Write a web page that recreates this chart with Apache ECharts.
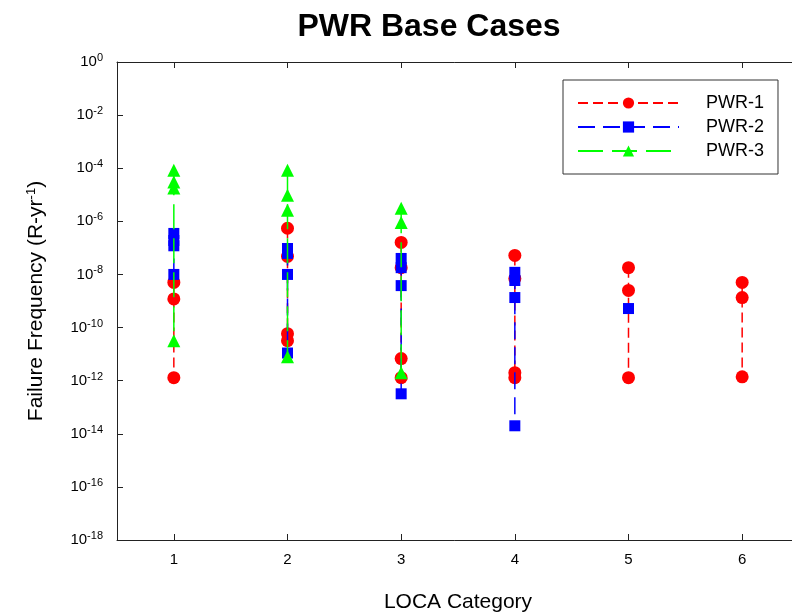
<!DOCTYPE html>
<html>
<head>
<meta charset="utf-8">
<script src="https://cdn.jsdelivr.net/npm/echarts@6/dist/echarts.min.js"></script>
<style>html,body{margin:0;padding:0;background:#fff}#c{width:792px;height:613px}</style>
</head>
<body>
<div id="c"></div>
<script>
// Categories (LOCA category)
const categories = ['1', '2', '3', '4', '5', '6'];
// Values per category for each series (failure frequency, R-yr^-1)
const pwr1 = [
  [5e-9, 1.2e-9, 1.3e-12],
  [5.5e-7, 4.8e-8, 5.9e-11, 3.2e-11],
  [1.6e-7, 1.8e-8, 6.8e-12, 1.3e-12],
  [5.2e-8, 7e-9, 2e-12, 1.3e-12],
  [1.8e-8, 2.5e-9, 1.3e-12],
  [5e-9, 1.35e-9, 1.4e-12]
];
const pwr2 = [
  [3.5e-7, 1.9e-7, 1.2e-7, 1e-8],
  [9.5e-8, 6.2e-8, 1e-8, 1.1e-11],
  [4e-8, 1.8e-8, 3.8e-9, 3.2e-13],
  [1.2e-8, 5.9e-9, 1.35e-9, 2e-14],
  [5.2e-10],
  []
];
const pwr3 = [
  [8.3e-5, 3e-5, 1.8e-5, 3.2e-11],
  [8.3e-5, 9.5e-6, 2.6e-6, 8e-12],
  [3.1e-6, 9.1e-7, 2e-12],
  [],
  [],
  []
];
const yTickExponents = [0, -2, -4, -6, -8, -10, -12, -14, -16, -18];

const FONT = '"Liberation Sans", Arial, sans-serif';

function build(groups) {
  const out = [];
  groups.forEach((vals, i) => {
    if (!vals.length) return;
    vals.slice().sort((a, b) => b - a).forEach(v => out.push([i, v]));
    out.push([i, '-']);
  });
  return out;
}

const chart = echarts.init(document.getElementById('c'), null, {renderer: 'canvas'});
const axisCol = '#222';
chart.setOption({
  animation: false,
  backgroundColor: '#fff',
  title: {
    text: 'PWR Base Cases',
    left: 424, top: 6, textAlign: 'center',
    textStyle: {fontFamily: FONT, fontSize: 32, fontWeight: 'bold', color: '#000'}
  },
  legend: {
    orient: 'vertical',
    left: 563, top: 80,
    padding: [14, 14, 14, 14],
    itemGap: 6,
    itemWidth: 101, itemHeight: 14,
    borderColor: '#333', borderWidth: 1,
    textStyle: {fontFamily: FONT, fontSize: 18, color: '#000', lineHeight: 18, padding: [0, 0, 0, 22]},
    data: ['PWR-1', 'PWR-2', 'PWR-3']
  },
  grid: {left: 117, top: 62, width: 682, height: 478, containLabel: false, outerBoundsMode: 'none'},
  xAxis: [{
    type: 'category', data: categories, position: 'bottom',
    boundaryGap: true,
    name: 'LOCA Category', nameLocation: 'middle', nameGap: 52,
    nameTextStyle: {fontFamily: FONT, fontSize: 21, color: '#000'},
    axisLine: {show: true, lineStyle: {color: axisCol, width: 1}},
    axisTick: {show: true, inside: true, alignWithLabel: true, length: 6, lineStyle: {color: axisCol}},
    axisLabel: {fontFamily: FONT, fontSize: 15, color: '#000', margin: 12},
    splitLine: {show: false}
  }, {
    type: 'category', data: categories, position: 'top',
    boundaryGap: true,
    axisLine: {show: true, lineStyle: {color: axisCol, width: 1}},
    axisTick: {show: true, inside: true, alignWithLabel: true, length: 6, lineStyle: {color: axisCol}},
    axisLabel: {show: false},
    splitLine: {show: false}
  }],
  yAxis: [{
    type: 'log', logBase: 10, min: 1e-18, max: 1, interval: 2,
    name: '{n|Failure Frequency (R-yr}{s|-1}{n|)}',
    nameLocation: 'middle', nameGap: 69, nameRotate: 90,
    nameTextStyle: {
      fontFamily: FONT, color: '#000',
      rich: {
        n: {fontFamily: FONT, fontSize: 21, color: '#000'},
        s: {fontFamily: FONT, fontSize: 13, color: '#000', padding: [0, 0, 10, 0]}
      }
    },
    axisLine: {show: true, lineStyle: {color: axisCol, width: 1}},
    axisTick: {show: true, inside: true, length: 6, lineStyle: {color: axisCol}},
    minorTick: {show: false},
    splitLine: {show: false},
    axisLabel: {
      margin: 14,
      formatter: function (v) {
        const e = Math.round(Math.log10(v));
        if (yTickExponents.indexOf(e) < 0) return '';
        return '{b|10}{e|' + e + '}';
      },
      rich: {
        b: {fontFamily: FONT, fontSize: 15, color: '#000'},
        e: {fontFamily: FONT, fontSize: 11, color: '#000', padding: [0, 0, 8, 0]}
      }
    }
  }],
  series: [{
    name: 'PWR-1', type: 'line', data: build(pwr1),
    connectNulls: false,
    symbol: 'circle', symbolSize: 13,
    itemStyle: {color: '#ff0000'},
    lineStyle: {color: '#ff0000', width: 1.5, type: [10, 5]},
    z: 2
  }, {
    name: 'PWR-2', type: 'line', data: build(pwr2),
    connectNulls: false,
    symbol: 'rect', symbolSize: 11,
    itemStyle: {color: '#0000ff'},
    lineStyle: {color: '#0000ff', width: 1.5, type: [17, 8]},
    z: 3
  }, {
    name: 'PWR-3', type: 'line', data: build(pwr3),
    connectNulls: false,
    symbol: 'triangle', symbolSize: 13,
    itemStyle: {color: '#00ff00'},
    lineStyle: {color: '#00ff00', width: 1.5, type: [25, 9]},
    z: 4
  }]
});
</script>
</body>
</html>
